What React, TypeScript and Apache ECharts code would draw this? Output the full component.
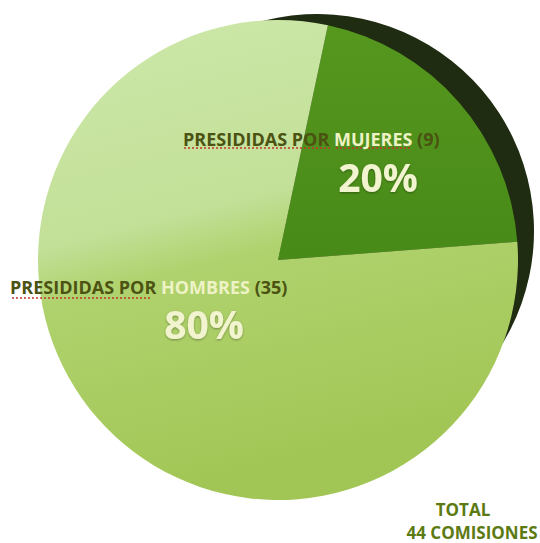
import React, { useEffect, useRef } from "react";
import * as echarts from "echarts";

const categories = ["MUJERES", "HOMBRES"];
const counts = [9, 35];
const labelPrefix = "PRESIDIDAS POR ";
const totalLines = ["TOTAL", "44 COMISIONES"];

export default function App() {
  const ref = useRef<HTMLDivElement>(null);
  useEffect(() => {
    document.body.style.margin = "0";
    const chart = echarts.init(ref.current!, undefined, { renderer: "svg" });
    const total = counts.reduce((a, b) => a + b, 0);
    const pct = counts.map((c) => Math.round((c / total) * 100) + "%");
    const font = "'Open Sans', sans-serif";
    const lightGrad = new echarts.graphic.LinearGradient(0, 0, 0.25, 1, [
      { offset: 0, color: "#cde8aa" },
      { offset: 0.45, color: "#c3e098" },
      { offset: 0.56, color: "#b0d26e" },
      { offset: 1, color: "#a2c655" },
    ]);
    const darkGrad = new echarts.graphic.LinearGradient(0, 0, 0, 1, [
      { offset: 0, color: "#56971e" },
      { offset: 1, color: "#478a18" },
    ]);
    const rich = {
      a: { fontFamily: font, fontWeight: 700, fontSize: 18, fill: "#4b5212" },
      b: { fontFamily: font, fontWeight: 700, fontSize: 18, fill: "#eef3c6" },
    } as any;
    const mk = (i: number) => `{a|${labelPrefix}}{b|${categories[i]}}{a| (${counts[i]})}`;
    const pctStyle = {
      fontFamily: font, fontWeight: 700, fontSize: 39, fill: "#f2f4d0",
      textAlign: "center", textVerticalAlign: "middle",
      textShadowColor: "rgba(0,0,0,0.35)", textShadowBlur: 2, textShadowOffsetY: 1,
    };
    const totStyle = {
      fontFamily: font, fontWeight: 700, fontSize: 17, fill: "#5c7a12",
      textAlign: "center", textVerticalAlign: "middle",
    };
    chart.setOption({
      animation: false,
      backgroundColor: "#ffffff",
      series: [
        {
          type: "pie",
          silent: true,
          center: [317, 231],
          radius: 217,
          startAngle: 78,
          label: { show: false },
          labelLine: { show: false },
          itemStyle: { color: "#1f2c12", borderWidth: 0 },
          data: [{ name: "total", value: total }],
          z: 1,
        },
        {
          type: "pie",
          silent: true,
          center: [278, 260],
          radius: 240,
          startAngle: 78,
          label: { show: false },
          labelLine: { show: false },
          data: categories.map((c, i) => ({
            name: c,
            value: counts[i],
            itemStyle: { color: i === 0 ? darkGrad : lightGrad },
          })),
          z: 2,
        },
      ],
      graphic: [
        { type: "line", z: 10, shape: { x1: 184, y1: 148, x2: 330, y2: 148 }, style: { stroke: "#c0392b", lineWidth: 1.5, lineDash: [2, 2] } },
        { type: "line", z: 10, shape: { x1: 336, y1: 148, x2: 412, y2: 148 }, style: { stroke: "#c0392b", lineWidth: 1.5, lineDash: [2, 2] } },
        { type: "line", z: 10, shape: { x1: 12, y1: 298, x2: 152, y2: 298 }, style: { stroke: "#c0392b", lineWidth: 1.5, lineDash: [2, 2] } },
        { type: "text", z: 11, x: 183, y: 139, style: { text: mk(0), rich, textVerticalAlign: "middle", textAlign: "left" } },
        { type: "text", z: 11, x: 10, y: 287, style: { text: mk(1), rich, textVerticalAlign: "middle", textAlign: "left" } },
        { type: "text", z: 11, x: 378, y: 176, style: { text: pct[0], ...pctStyle } },
        { type: "text", z: 11, x: 204, y: 323, style: { text: pct[1], ...pctStyle } },
        { type: "text", z: 11, x: 463, y: 509, style: { text: totalLines[0], ...totStyle } },
        { type: "text", z: 11, x: 472, y: 532, style: { text: totalLines[1], ...totStyle } },
      ],
    });
    return () => chart.dispose();
  }, []);
  return <div ref={ref} style={{ width: 540, height: 543 }} />;
}
